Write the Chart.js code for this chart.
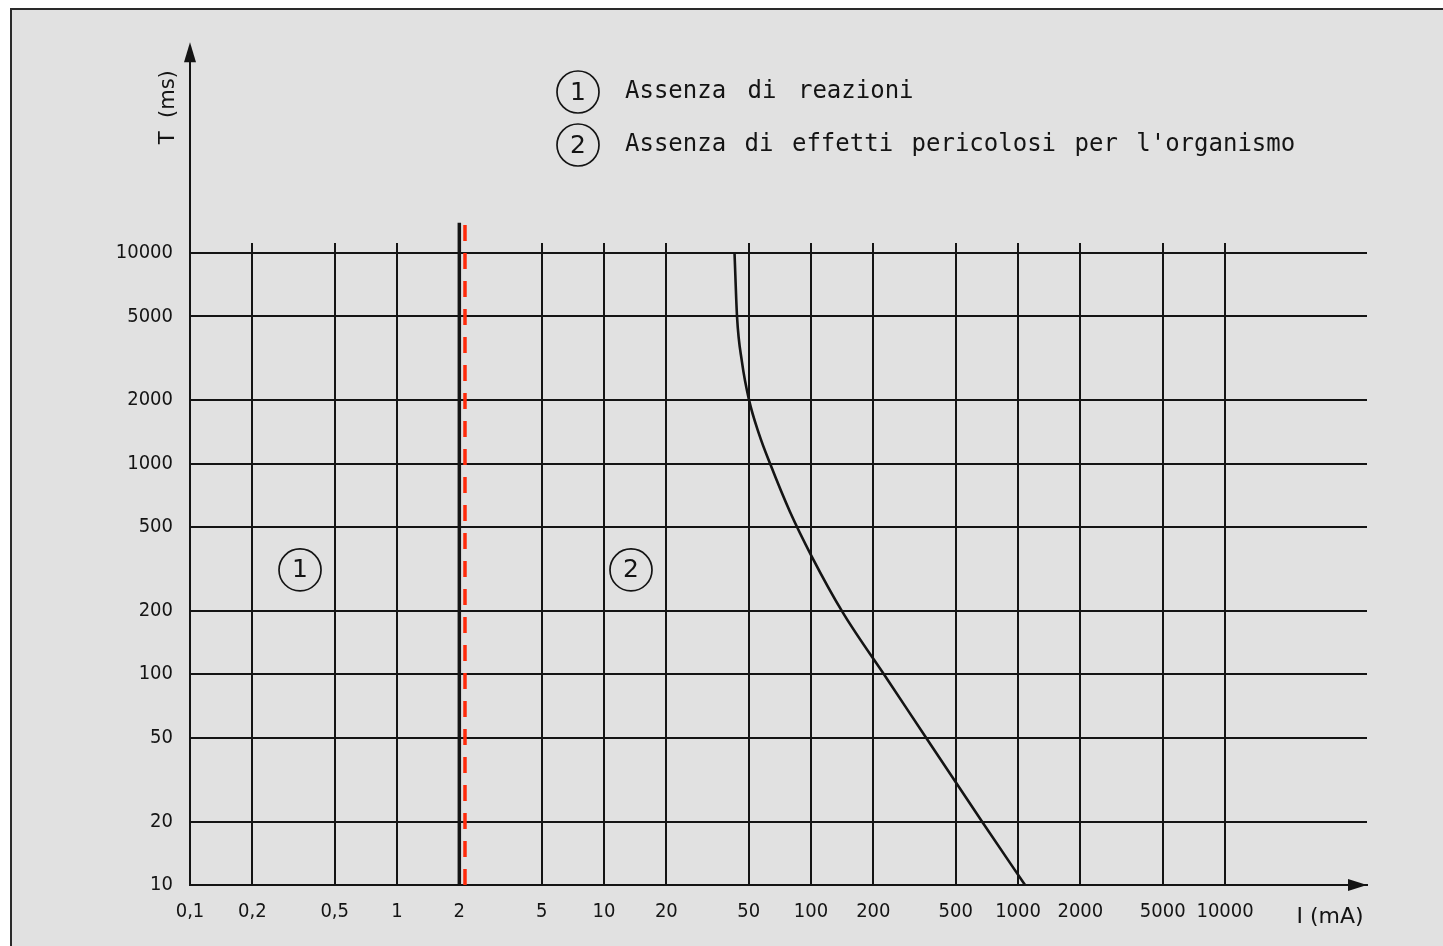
<!DOCTYPE html>
<html>
<head>
<meta charset="utf-8">
<script src="https://cdn.jsdelivr.net/npm/chart.js@4.4.1/dist/chart.umd.min.js"></script>
<style>
  html, body { margin: 0; padding: 0; background: #fff; overflow: hidden; }
  #sheet {
    position: absolute; left: 10px; top: 8px; width: 1460px; height: 960px;
    background: #e1e1e1; border-left: 2px solid #2a2a2a; border-top: 2px solid #2a2a2a;
  }
  #chart { position: absolute; left: 0; top: 0; }
</style>
</head>
<body>
<div id="sheet"></div>
<canvas id="chart" width="1443" height="946"></canvas>
<script>
// Axis ticks (both axes logarithmic)
const xTickValues = [0.1, 0.2, 0.5, 1, 2, 5, 10, 20, 50, 100, 200, 500, 1000, 2000, 5000, 10000];
const xTickLabels = ['0,1', '0,2', '0,5', '1', '2', '5', '10', '20', '50', '100', '200', '500', '1000', '2000', '5000', '10000'];
const yTickValues = [10, 20, 50, 100, 200, 500, 1000, 2000, 5000, 10000];
const yTickLabels = ['10', '20', '50', '100', '200', '500', '1000', '2000', '5000', '10000'];

// Boundary curve between zone 1 and zone 2: current I (mA) vs time T (ms)
const curveI = [42.7, 43.9, 46.4, 50.2, 56.1, 63.4, 79.2, 101, 143, 233, 363, 677, 1081];
const curveT = [10000, 5000, 3030, 2000, 1380, 1000, 589, 361, 195, 95, 49.3, 19.7, 10];

// Heavy line at 2 mA and the red dashed marker next to it
const limitI = [2, 2];
const limitT = [10, 13900];
const markerI = [2.13, 2.13];
const markerT = [10, 14000];

// Zone labels (circled numbers) and legend text
const zoneNames = ['1', '2'];
const zoneI = [0.34, 13.5];
const zoneT = [313, 313];
const legendText = ['Assenza di reazioni', "Assenza di effetti pericolosi per l'organismo"];

const ink = '#141414';
const xMax = 48500;
const yMax = 11140;
const yArrowTip = 100000;

function pts(xs, ys) {
    return xs.map((v, i) => ({ x: v, y: ys[i] }));
}

function circled(ctx, cx, cy, text) {
    ctx.beginPath();
    ctx.arc(cx, cy, 21, 0, Math.PI * 2);
    ctx.lineWidth = 1.7;
    ctx.stroke();
    ctx.font = '25px "DejaVu Sans"';
    ctx.textAlign = 'center';
    ctx.textBaseline = 'middle';
    ctx.fillText(text, cx, cy + 1);
}

// Arrows, axis titles, zone labels and the legend block
const annotations = {
    id: 'annotations',
    afterDraw(chart) {
        const { ctx, chartArea, scales: { x, y } } = chart;
        ctx.save();
        ctx.strokeStyle = ink;
        ctx.fillStyle = ink;

        // y axis runs on above the grid, ends in an arrow
        const ax = chartArea.left;
        const tipY = y.getPixelForValue(yArrowTip);
        ctx.lineWidth = 2;
        ctx.beginPath();
        ctx.moveTo(ax, chartArea.top);
        ctx.lineTo(ax, tipY + 15);
        ctx.stroke();
        ctx.beginPath();
        ctx.moveTo(ax, tipY);
        ctx.lineTo(ax - 6, tipY + 20);
        ctx.lineTo(ax + 6, tipY + 20);
        ctx.closePath();
        ctx.fill();

        // x axis arrow head
        const ay = chartArea.bottom;
        const tipX = chartArea.right;
        ctx.beginPath();
        ctx.moveTo(tipX, ay);
        ctx.lineTo(tipX - 19, ay - 6);
        ctx.lineTo(tipX - 19, ay + 6);
        ctx.closePath();
        ctx.fill();

        // axis titles
        ctx.font = '21px "DejaVu Sans"';
        ctx.textAlign = 'center';
        ctx.textBaseline = 'middle';
        ctx.save();
        ctx.translate(ax - 21, tipY + 65);
        ctx.rotate(-Math.PI / 2);
        ctx.fillText('T  (ms)', 0, 0);
        ctx.restore();
        ctx.font = '22px "DejaVu Sans"';
        ctx.fillText('I (mA)', tipX - 37, ay + 32);

        // zone labels
        zoneNames.forEach((n, i) => {
            circled(ctx, x.getPixelForValue(zoneI[i]), y.getPixelForValue(zoneT[i]), n);
        });

        // legend block
        const lx = 578;
        const ly = [92, 145];
        legendText.forEach((t, i) => {
            circled(ctx, lx, ly[i], String(i + 1));
            ctx.font = '24px "DejaVu Sans Mono"';
            ctx.textAlign = 'left';
            ctx.textBaseline = 'middle';
            ctx.wordSpacing = i === 0 ? '7px' : '4px';
            ctx.fillText(t, lx + 47, ly[i]);
            ctx.wordSpacing = '0px';
        });
        ctx.restore();
    }
};

const tickFont = { family: '"DejaVu Sans Condensed", sans-serif', size: 20 };

new Chart(document.getElementById('chart'), {
    type: 'line',
    data: {
        datasets: [
            {
                label: 'curve',
                data: pts(curveI, curveT),
                borderColor: ink,
                borderWidth: 2.6,
                pointRadius: 0,
                cubicInterpolationMode: 'monotone',
                fill: false
            },
            {
                label: '2 mA',
                data: pts(limitI, limitT),
                borderColor: ink,
                borderWidth: 3.5,
                pointRadius: 0,
                clip: false
            },
            {
                label: 'marker',
                data: pts(markerI, markerT),
                borderColor: '#ff2a0a',
                borderWidth: 3.5,
                borderDash: [16, 12],
                pointRadius: 0,
                clip: false
            }
        ]
    },
    options: {
        responsive: false,
        animation: false,
        devicePixelRatio: 1,
        layout: { padding: { top: 243, right: 76, left: 0, bottom: 0 } },
        plugins: {
            legend: { display: false },
            tooltip: { enabled: false }
        },
        scales: {
            x: {
                type: 'logarithmic',
                position: 'bottom',
                min: 0.1,
                max: xMax,
                afterBuildTicks: s => { s.ticks = xTickValues.map(v => ({ value: v })); },
                afterFit: s => { s.height = 61; },
                ticks: {
                    autoSkip: false,
                    maxRotation: 0,
                    padding: 15,
                    color: ink,
                    font: tickFont,
                    callback: (v, i) => xTickLabels[i]
                },
                grid: { color: ink, lineWidth: 2, drawTicks: false },
                border: { color: ink, width: 2 }
            },
            y: {
                type: 'logarithmic',
                position: 'left',
                min: 10,
                max: yMax,
                afterBuildTicks: s => { s.ticks = yTickValues.map(v => ({ value: v })); },
                afterFit: s => { s.width = 190; },
                ticks: {
                    padding: 17,
                    color: ink,
                    font: tickFont,
                    callback: (v, i) => yTickLabels[i]
                },
                grid: { color: ink, lineWidth: 2, drawTicks: false },
                border: { color: ink, width: 2 }
            }
        }
    },
    plugins: [annotations]
});
</script>
</body>
</html>
